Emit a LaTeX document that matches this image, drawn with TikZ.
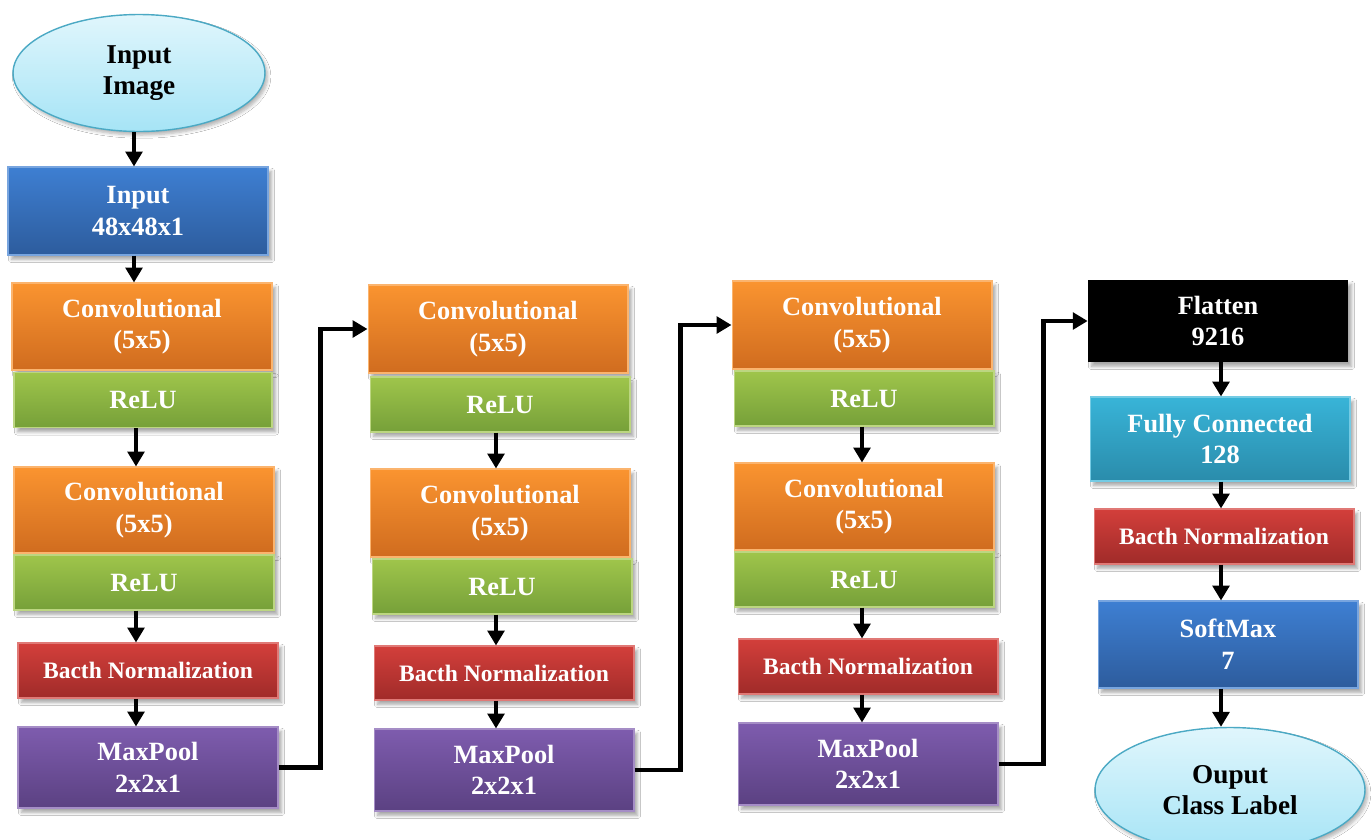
\documentclass[tikz,border=0pt]{standalone}
\usepackage{fontspec}
\setmainfont{Liberation Serif}
\usetikzlibrary{arrows.meta,shapes.geometric,shadows.blur}
\tikzset{
  box/.style={rectangle, minimum width=5.2cm, inner sep=0pt, align=center,
    text=white, font=\fontsize{15}{18}\selectfont\bfseries,
    blur shadow={shadow xshift=2pt, shadow yshift=-2.5pt, shadow blur steps=6, shadow opacity=35}},
  bluebox/.style={box, top color=blue1, bottom color=blue2, draw=blue1!70!white, line width=0.6pt},
  orangebox/.style={box, top color=orange1, bottom color=orange2, draw=orange1!70!white, line width=0.6pt},
  greenbox/.style={box, top color=green1, bottom color=green2, draw=green1!70!white, line width=0.6pt},
  redbox/.style={box, top color=red1, bottom color=red2, draw=red1!70!white, line width=0.6pt,
    font=\fontsize{13.4}{16}\selectfont\bfseries},
  purplebox/.style={box, top color=purple1, bottom color=purple2, draw=purple1!70!white, line width=0.6pt},
  cyanbox/.style={box, top color=cyan1, bottom color=cyan2, draw=cyan1!70!white, line width=0.6pt},
  blackbox/.style={box, fill=black},
  term/.style={ellipse, inner sep=0pt, align=center, text=black,
    font=\fontsize{15.5}{18}\selectfont\bfseries,
    top color=ell1, bottom color=ell2, draw=ellb, line width=0.8pt,
    blur shadow={shadow xshift=1.5pt, shadow yshift=-2pt, shadow blur steps=6, shadow opacity=30}},
  arr/.style={-{Triangle[length=8.5pt,width=9.5pt]}, line width=2.3pt, black},
  h1/.style={minimum height=1.76cm},
  h2/.style={minimum height=1.1cm},
  h3/.style={minimum height=1.64cm}
}
\definecolor{blue1}{HTML}{3E7FD2}
\definecolor{blue2}{HTML}{2D5C9D}
\definecolor{orange1}{HTML}{FA9430}
\definecolor{orange2}{HTML}{D06C1F}
\definecolor{green1}{HTML}{9FC54B}
\definecolor{green2}{HTML}{76A039}
\definecolor{red1}{HTML}{D33F3B}
\definecolor{red2}{HTML}{A02B29}
\definecolor{purple1}{HTML}{7E5CAE}
\definecolor{purple2}{HTML}{5B4182}
\definecolor{cyan1}{HTML}{38B4D8}
\definecolor{cyan2}{HTML}{2A8CAB}
\definecolor{ell1}{HTML}{E0F6FC}
\definecolor{ell2}{HTML}{A6E4F6}
\definecolor{ellb}{HTML}{4BA9C4}
\begin{document}
\begin{tikzpicture}[x=0.02cm, y=-0.02cm]
\clip (0,0) rectangle (1372,839);
\fill[white] (0,0) rectangle (1372,839);
% column 1
\node[term, minimum width=5.04cm, minimum height=2.34cm] (ein) at (139,73) {Input\\Image};
\node[bluebox, h1] (in) at (138,211) {Input\\48x48x1};
\node[orangebox, minimum height=1.74cm] (c1) at (142,326.5) {Convolutional\\(5x5)};
\node[greenbox, h2, minimum width=5.16cm] (r1) at (143,400) {ReLU};
\node[orangebox, minimum height=1.72cm] (c2) at (144,510) {Convolutional\\(5x5)};
\node[greenbox, h2] (r2) at (144,582.5) {ReLU};
\node[redbox, h2] (b1) at (148,670.5) {Bacth Normalization};
\node[purplebox, minimum height=1.62cm] (m1) at (148,767.5) {MaxPool\\2x2x1};
% column 2
\node[orangebox, h1] (c3) at (498,329) {Convolutional\\(5x5)};
\node[greenbox, h2] (r3) at (500,404.5) {ReLU};
\node[orangebox, h1] (c4) at (500,513) {Convolutional\\(5x5)};
\node[greenbox, h2] (r4) at (502,586.5) {ReLU};
\node[redbox, minimum height=1.08cm] (b2) at (504,673) {Bacth Normalization};
\node[purplebox, h3] (m2) at (504,770) {MaxPool\\2x2x1};
% column 3
\node[orangebox, h1] (c5) at (862,325) {Convolutional\\(5x5)};
\node[greenbox, h2] (r5) at (864,398.5) {ReLU};
\node[orangebox, minimum height=1.74cm] (c6) at (864,506.5) {Convolutional\\(5x5)};
\node[greenbox, h2] (r6) at (864,579.5) {ReLU};
\node[redbox, h2] (b3) at (868,666.5) {Bacth Normalization};
\node[purplebox, h3] (m3) at (868,764) {MaxPool\\2x2x1};
% column 4
\node[blackbox, h3] (fl) at (1218,321) {Flatten\\9216};
\node[cyanbox, minimum height=1.68cm] (fc) at (1220,439) {Fully Connected\\128};
\node[redbox, h2] (b4) at (1224,536.5) {Bacth Normalization};
\node[bluebox, minimum height=1.74cm] (sm) at (1228,644.5) {SoftMax\\7};
\node[term, minimum width=5.4cm, minimum height=2.5cm] (eout) at (1230,790) {Ouput\\Class Label};
% arrow columns
\coordinate (xa) at (134,0);
\coordinate (xb) at (136,0);
\coordinate (xc) at (496,0);
\coordinate (xd) at (862,0);
\coordinate (xe) at (1221,0);
% arrows column 1
\draw[arr] (ein.south -| xa) -- (in.north -| xa);
\draw[arr] (in.south -| xa) -- (c1.north -| xa);
\draw[arr] (r1.south -| xb) -- (c2.north -| xb);
\draw[arr] (r2.south -| xb) -- (b1.north -| xb);
\draw[arr] (b1.south -| xb) -- (m1.north -| xb);
% arrows column 2
\draw[arr] (r3.south -| xc) -- (c4.north -| xc);
\draw[arr] (r4.south -| xc) -- (b2.north -| xc);
\draw[arr] (b2.south -| xc) -- (m2.north -| xc);
% arrows column 3
\draw[arr] (r5.south -| xd) -- (c6.north -| xd);
\draw[arr] (r6.south -| xd) -- (b3.north -| xd);
\draw[arr] (b3.south -| xd) -- (m3.north -| xd);
% arrows column 4
\draw[arr] (fl.south -| xe) -- (fc.north -| xe);
\draw[arr] (fc.south -| xe) -- (b4.north -| xe);
\draw[arr] (b4.south -| xe) -- (sm.north -| xe);
\draw[arr] (sm.south -| xe) -- (eout.north -| xe);
% elbow connectors
\draw[arr] (m1.east) -- ++(42,0) |- (c3.west);
\draw[arr] (m2.east) -- ++(46,0) |- (c5.west);
\draw[arr] (m3.east) -- ++(45,0) |- (fl.west);
\end{tikzpicture}
\end{document}
